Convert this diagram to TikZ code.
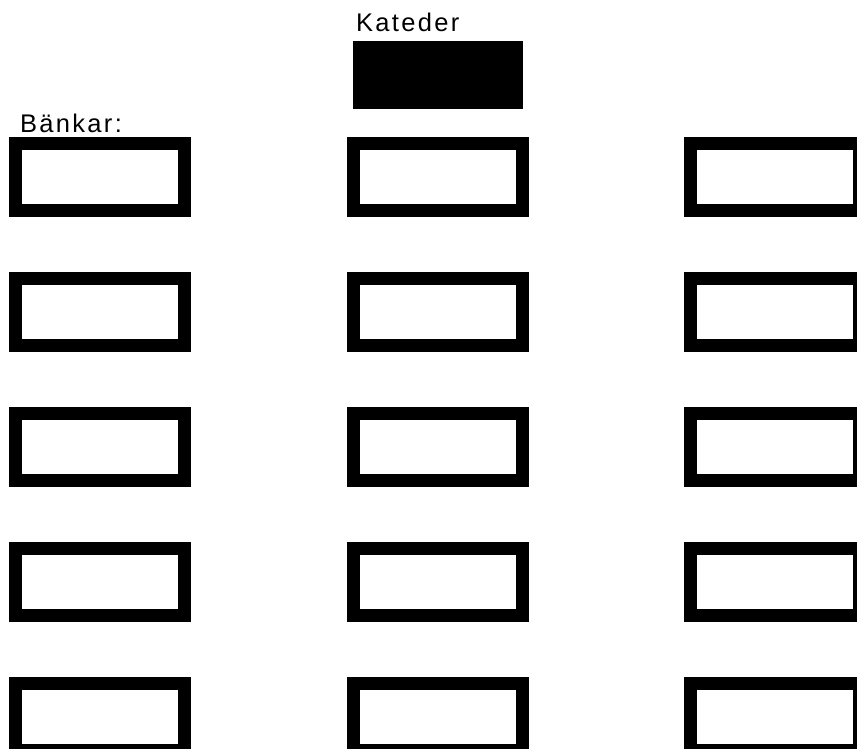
\documentclass[tikz,border=0pt]{standalone}
\usepackage{fontspec}
\setmainfont{Liberation Sans}
\newfontfamily\labelfont{Liberation Sans}[LetterSpace=9]
\begin{document}
\begin{tikzpicture}[x=1pt,y=-1pt,
  bench/.style={draw=black,line width=13pt,fill=white,minimum width=169pt,minimum height=67pt,inner sep=0pt,outer sep=0pt},
  desk/.style={fill=black,draw=none,minimum width=170pt,minimum height=68pt,inner sep=0pt},
  lbl/.style={anchor=base west,inner sep=0pt,font=\labelfont\fontsize{25.5}{30}\selectfont}]
\useasboundingbox (0,0) rectangle (857,749);
\clip (0,0) rectangle (857,749);
\fill[white] (0,0) rectangle (857,749);
\node[lbl] (kat) at (356,32) {Kateder};
\node[desk] (desk) at (438,75) {};
\node[lbl] (bank) at (20,133) {Bänkar:};
\foreach \r/\y in {1/177,2/312,3/447,4/582,5/717}{
  \foreach \c/\x in {1/100,2/437.5,3/775}{
    \node[bench] (b\r\c) at (\x,\y) {};
  }
}
\end{tikzpicture}
\end{document}
